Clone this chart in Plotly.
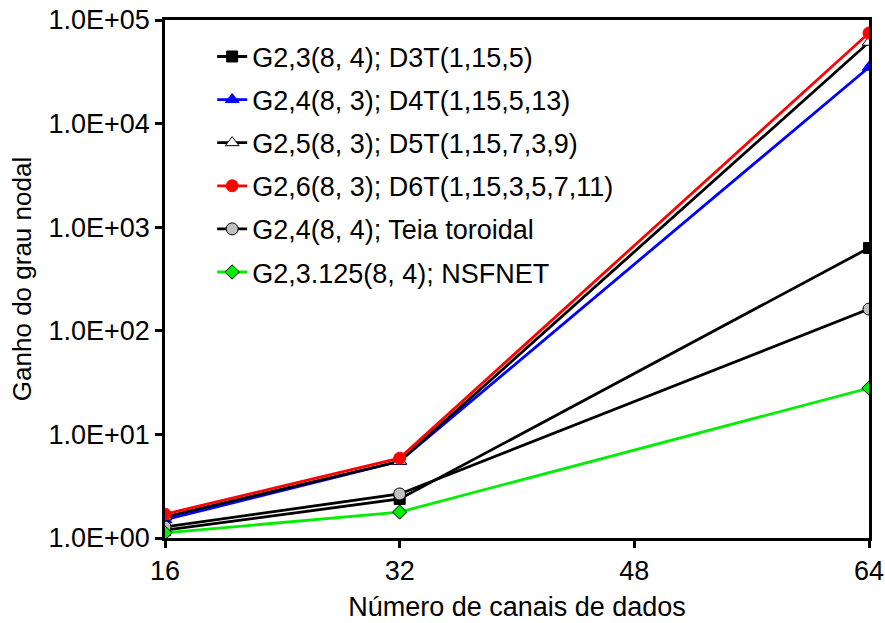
import plotly.graph_objects as go

x_vals = [16, 32, 64]
names = [
    "G2,3(8, 4); D3T(1,15,5)",
    "G2,4(8, 3); D4T(1,15,5,13)",
    "G2,5(8, 3); D5T(1,15,7,3,9)",
    "G2,6(8, 3); D6T(1,15,3,5,7,11)",
    "G2,4(8, 4); Teia toroidal",
    "G2,3.125(8, 4); NSFNET",
]
s_d3t = [1.19, 2.38, 630]
s_d4t = [1.5, 5.5, 35000]
s_d5t = [1.6, 5.5, 61000]
s_d6t = [1.7, 5.9, 75000]
s_teia = [1.28, 2.66, 162]
s_nsf = [1.12, 1.78, 28]

y_tickvals = [1, 10, 100, 1000, 10000, 100000]
y_ticktext = ["1.0E+00", "1.0E+01", "1.0E+02", "1.0E+03", "1.0E+04", "1.0E+05"]
x_tickvals = [16, 32, 48, 64]

series = [s_d3t, s_d4t, s_d5t, s_d6t, s_teia, s_nsf]
line_colors = ["#000000", "#0000FF", "#000000", "#FF0000", "#000000", "#00EE00"]
symbols = ["square", "triangle-up", "triangle-up", "circle", "circle", "diamond"]
mfill = ["#000000", "#0000FF", "#FFFFFF", "#FF0000", "#C0C0C0", "#00EE00"]
mline = ["#000000", "#0000FF", "#000000", "#FF0000", "#000000", "#000000"]
msize = [11, 12, 12, 12, 12, 11]

fig = go.Figure()
for i, (nm, ys) in enumerate(zip(names, series)):
    fig.add_trace(go.Scatter(
        x=x_vals, y=ys, name=nm, mode="lines+markers",
        legendgroup=f"g{i}",
        line=dict(color=line_colors[i], width=2.8),
        marker=dict(symbol=symbols[i], size=msize[i], color=mfill[i],
                    line=dict(color=mline[i], width=1)),
    ))

fig.update_layout(
    width=885, height=623,
    margin=dict(l=165, r=16, t=20, b=85),
    paper_bgcolor="white", plot_bgcolor="white",
    font=dict(family="Liberation Sans, Arial, sans-serif", size=27, color="black"),
    legend=dict(x=0.067, y=0.976, xanchor="left", yanchor="top",
                bgcolor="rgba(0,0,0,0)", font=dict(size=27),
                traceorder="grouped", tracegroupgap=5, itemwidth=30),
    xaxis=dict(range=[16, 64], tickvals=x_tickvals, showgrid=False, automargin=False,
               showline=True, linecolor="black", linewidth=2.5, mirror=True,
               ticks="outside", ticklen=7, tickwidth=2.5, tickcolor="black",
               zeroline=False, tickfont=dict(size=27),
               title=dict(text="Número de canais de dados", font=dict(size=27), standoff=12)),
    yaxis=dict(type="log", range=[0, 5], tickvals=y_tickvals, ticktext=y_ticktext,
               showgrid=False, showline=True, linecolor="black", linewidth=2.5, mirror=True,
               automargin=False, tickfont=dict(size=27),
               ticks="outside", ticklen=7, tickwidth=2.5, tickcolor="black",
               title=dict(text="Ganho do grau nodal", font=dict(size=26), standoff=10)),
)

fig.write_html("out.html")
